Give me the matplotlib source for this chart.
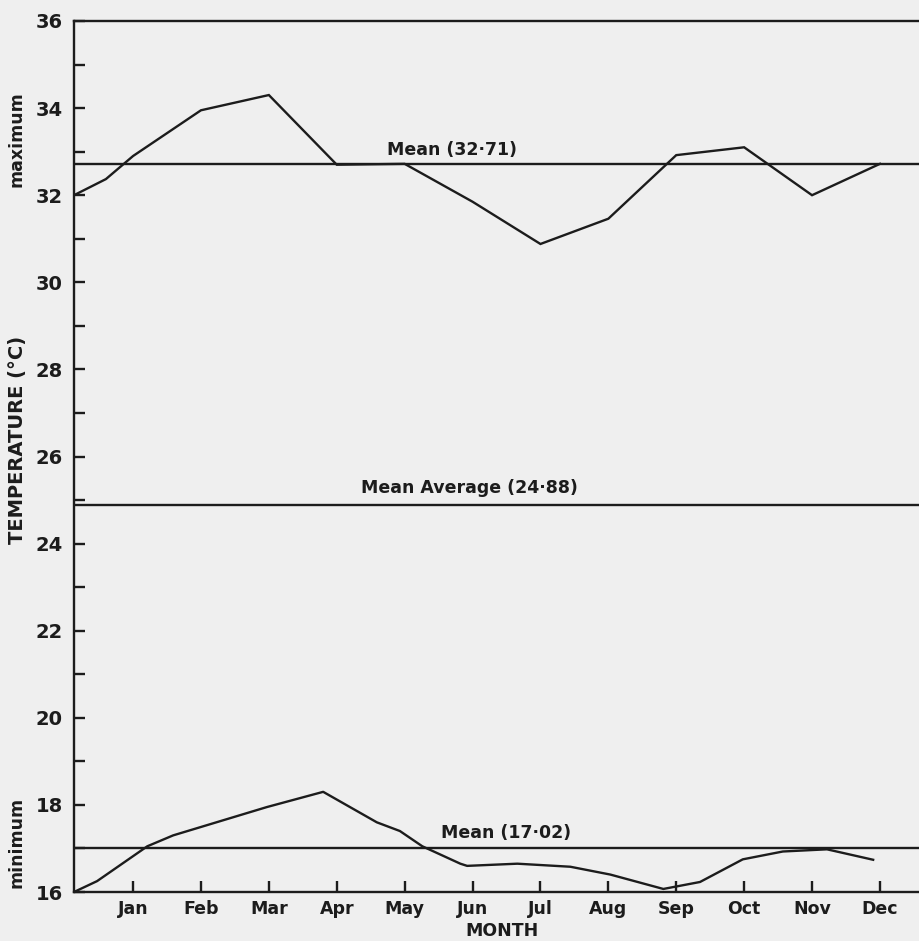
import matplotlib
matplotlib.use("Agg")
import matplotlib.pyplot as plt
from matplotlib.ticker import MultipleLocator

# ---------------- data ----------------
months = ["Jan", "Feb", "Mar", "Apr", "May", "Jun",
          "Jul", "Aug", "Sep", "Oct", "Nov", "Dec"]
month_pos = list(range(1, 13))

# maximum temperature curve (position in month units, value in °C)
max_x = [0.13, 0.60, 1, 2, 3, 4, 5, 6, 7, 8, 9, 10, 11, 12]
max_t = [32.0, 32.37, 32.9, 33.95, 34.3, 32.7, 32.72, 31.85, 30.88,
         31.46, 32.92, 33.1, 32.0, 32.72]

# minimum temperature curve
min_x = [0.13, 0.47, 1.21, 1.59, 2.97, 3.80, 4.59, 4.93, 5.26, 5.82, 5.92,
         6.66, 7.44, 8.03, 8.81, 9.35, 9.98, 10.57, 11.22, 11.90]
min_t = [16.0, 16.25, 17.05, 17.3, 17.95, 18.3, 17.6, 17.4, 17.05, 16.65,
         16.6, 16.65, 16.58, 16.4, 16.07, 16.23, 16.75, 16.93, 16.98, 16.74]

mean_max = 32.71
mean_avg = 24.88
mean_min = 17.02

# ---------------- style ----------------
INK = "#1c1c1c"
BG = "#efefef"
FONT = "DejaVu Sans"
plt.rcParams["font.family"] = [FONT]

fig = plt.figure(figsize=(9.2, 9.41), dpi=100, facecolor=BG)
ax = fig.add_axes([74 / 920, 49 / 941, 1 - 74 / 920, (892 - 21) / 941])
ax.set_facecolor(BG)

lw = 1.7
ax.plot(max_x, max_t, color=INK, lw=lw, solid_joinstyle="miter")
ax.plot(min_x, min_t, color=INK, lw=lw)
for m in (mean_max, mean_avg, mean_min):
    ax.axhline(m, color=INK, lw=lw)

ax.set_xlim(0.13, 12.59)
ax.set_ylim(16, 36)

ax.spines["right"].set_visible(False)
for side in ("left", "top", "bottom"):
    ax.spines[side].set_color(INK)
    ax.spines[side].set_linewidth(lw)

ax.yaxis.set_major_locator(MultipleLocator(2))
ax.yaxis.set_minor_locator(MultipleLocator(1))
ax.set_xticks(month_pos)
ax.set_xticklabels(months)

ax.tick_params(axis="y", which="both", direction="in", length=8, width=lw,
               color=INK, right=False)
ax.tick_params(axis="y", which="major", pad=8, labelsize=14,
               labelcolor=INK)
ax.tick_params(axis="x", which="both", direction="in", length=8, width=lw,
               color=INK, top=False, pad=6, labelsize=12.5, labelcolor=INK)
for lab in ax.get_yticklabels() + ax.get_xticklabels():
    lab.set_fontweight("bold")

lab_kw = dict(textcoords="offset points", ha="center", va="bottom",
              fontsize=12.5, fontweight="bold", color=INK)
ax.annotate("Mean (32·71)", xy=(5.70, mean_max), xytext=(0, 4), **lab_kw)
ax.annotate("Mean Average (24·88)", xy=(5.96, mean_avg), xytext=(0, 6),
            **lab_kw)
ax.annotate("Mean (17·02)", xy=(6.49, mean_min), xytext=(0, 4), **lab_kw)

fig.text(18 / 920, 1 - 440 / 941, "TEMPERATURE (°C)", rotation=90,
         ha="center", va="center", fontsize=14, fontweight="bold", color=INK)
fig.text(17 / 920, 1 - 139 / 941, "maximum", rotation=90,
         ha="center", va="center", fontsize=12.5, fontweight="bold", color=INK)
fig.text(17 / 920, 1 - 842 / 941, "minimum", rotation=90,
         ha="center", va="center", fontsize=12.5, fontweight="bold", color=INK)
fig.text(502 / 920, 1 - 931 / 941, "MONTH", ha="center", va="center",
         fontsize=12.5, fontweight="bold", color=INK)

fig.savefig("out.png", dpi=100, facecolor=BG)
